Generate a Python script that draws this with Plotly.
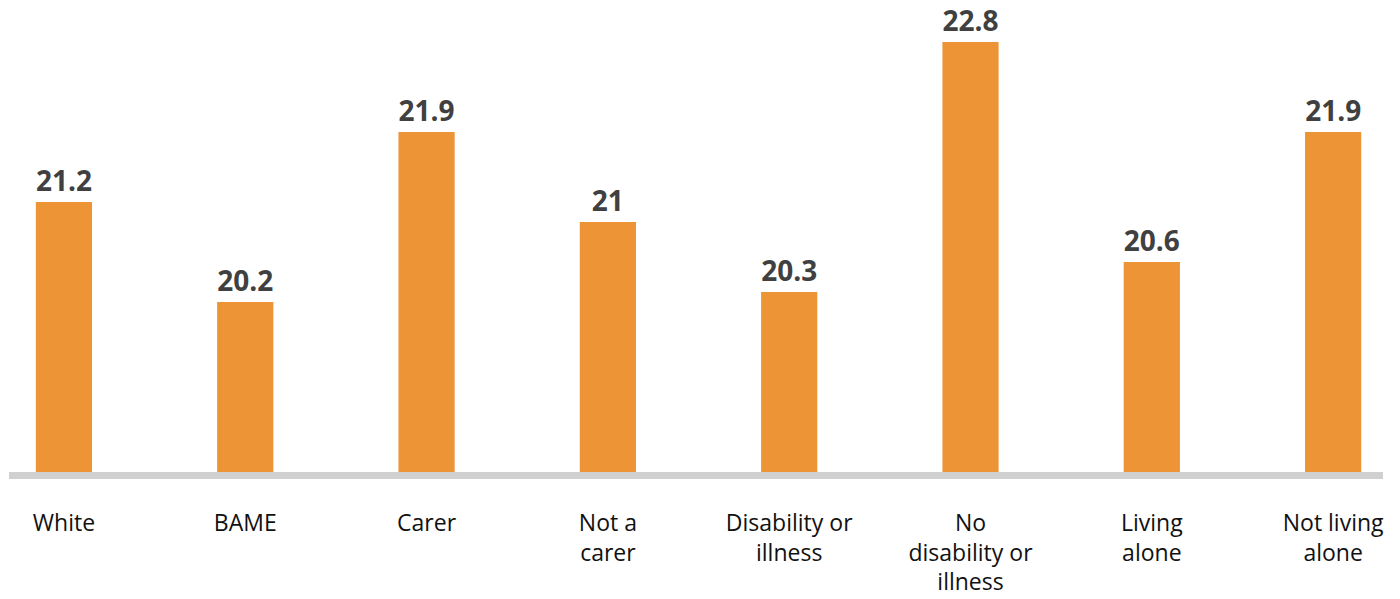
import plotly.graph_objects as go

categories = ["White", "BAME", "Carer", "Not a<br>carer", "Disability or<br>illness",
              "No<br>disability or<br>illness", "Living<br>alone", "Not living<br>alone"]
values = [21.2, 20.2, 21.9, 21.0, 20.3, 22.8, 20.6, 21.9]
value_labels = ["21.2", "20.2", "21.9", "21", "20.3", "22.8", "20.6", "21.9"]

fig = go.Figure(go.Bar(
    x=list(range(len(categories))),
    y=values,
    text=value_labels,
    textposition="outside",
    textfont=dict(family="Open Sans", size=28, color="#404040", weight="bold"),
    marker=dict(color="#ED9436", line=dict(width=0)),
    width=0.31,
    cliponaxis=False,
))

fig.update_layout(
    width=1400, height=599,
    margin=dict(l=9, r=17, t=0, b=127, autoexpand=False),
    paper_bgcolor="white", plot_bgcolor="white",
    showlegend=False,
    xaxis=dict(
        range=[-0.303, 7.275],
        tickmode="array",
        tickvals=list(range(len(categories))),
        ticktext=categories,
        tickfont=dict(family="Open Sans", size=23, color="#111111"),
        showline=True, linecolor="#D0D0D0", linewidth=7,
        ticks="", ticklabelstandoff=24,
        showgrid=False, zeroline=False, automargin=False,
    ),
    yaxis=dict(
        range=[18.5, 23.22],
        visible=False, showgrid=False, zeroline=False, automargin=False,
    ),
)

fig.write_html(
    "out.html",
    config={"displayModeBar": False},
    post_script="document.body.style.margin='0';document.body.style.overflow='hidden';",
)
